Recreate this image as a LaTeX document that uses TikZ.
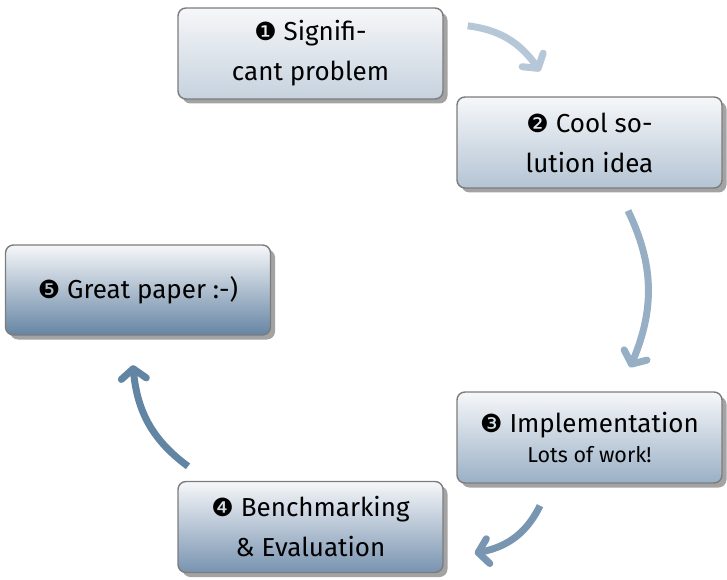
\documentclass[tikz,border=0pt]{standalone}
\usepackage{fontspec}
\setmainfont{Fira Sans}
\newfontfamily\dv{DejaVu Sans}
\usetikzlibrary{arrows.meta,shadows,bending}
\definecolor{boxtop}{HTML}{F6F7F9}
\definecolor{bot1}{HTML}{C6D2DE}
\definecolor{bot2}{HTML}{B4C4D4}
\definecolor{bot3}{HTML}{9AB0C6}
\definecolor{bot4}{HTML}{7893B0}
\definecolor{bot5}{HTML}{6685A4}
\definecolor{arr1}{HTML}{B6C8D8}
\definecolor{arr2}{HTML}{96AFC5}
\definecolor{arr3}{HTML}{7896B1}
\definecolor{arr4}{HTML}{6185A3}
\definecolor{edgegray}{HTML}{7C7C7C}
\newcommand{\cnum}[1]{{\dv\fontsize{25}{25}\selectfont #1}}
\tikzset{
  stepbox/.style={draw=edgegray, line width=1.4pt, rounded corners=8pt,
    minimum width=265pt, minimum height=91pt, align=center,
    top color=boxtop, bottom color=#1,
    drop shadow={shadow xshift=4.5pt, shadow yshift=-4.5pt, fill=black!45, opacity=0.8},
    font=\fontsize{26}{40}\selectfont},
  flow/.style={line width=7pt, draw=#1,
    -{Straight Barb[length=10pt, width=25pt, round]}}
}
\begin{document}
\begin{tikzpicture}[x=1pt,y=1pt]
\useasboundingbox (0,0) rectangle (727,579);
\node[stepbox=bot1] (b1) at (310.5,525.5) {\cnum{❶} Signifi-\\cant problem};
\node[stepbox=bot2] (b2) at (589.5,436.5) {\cnum{❷} Cool so-\\lution idea};
\node[stepbox=bot3] (b3) at (589.5,141.5) {\cnum{❸} Implementation\\[-10pt]{\fontsize{21.5}{22}\selectfont Lots of work!}};
\node[stepbox=bot4] (b4) at (310.5,52) {\cnum{❹} Benchmarking\\\& Evaluation};
\node[stepbox=bot5, minimum height=90pt] (b5) at (138,289) {\cnum{❺} Great paper :-)};
\draw[flow=arr1] ([shift={(24,-18.5)}]b1.north east) to[bend left=25] ([shift={(-49.5,25)}]b2.north);
\draw[flow=arr2] ([shift={(38.5,-22)}]b2.south) to[bend left=25] ([shift={(40.5,24)}]b3.north);
\draw[flow=arr3] ([shift={(-49.5,-22)}]b3.south) to[bend left=28] ([shift={(31,-26)}]b4.east);
\draw[flow=arr4] ([shift={(-122.5,14.5)}]b4.north) to[bend left=25] ([shift={(-5,-29.5)}]b5.south);
\end{tikzpicture}
\end{document}
